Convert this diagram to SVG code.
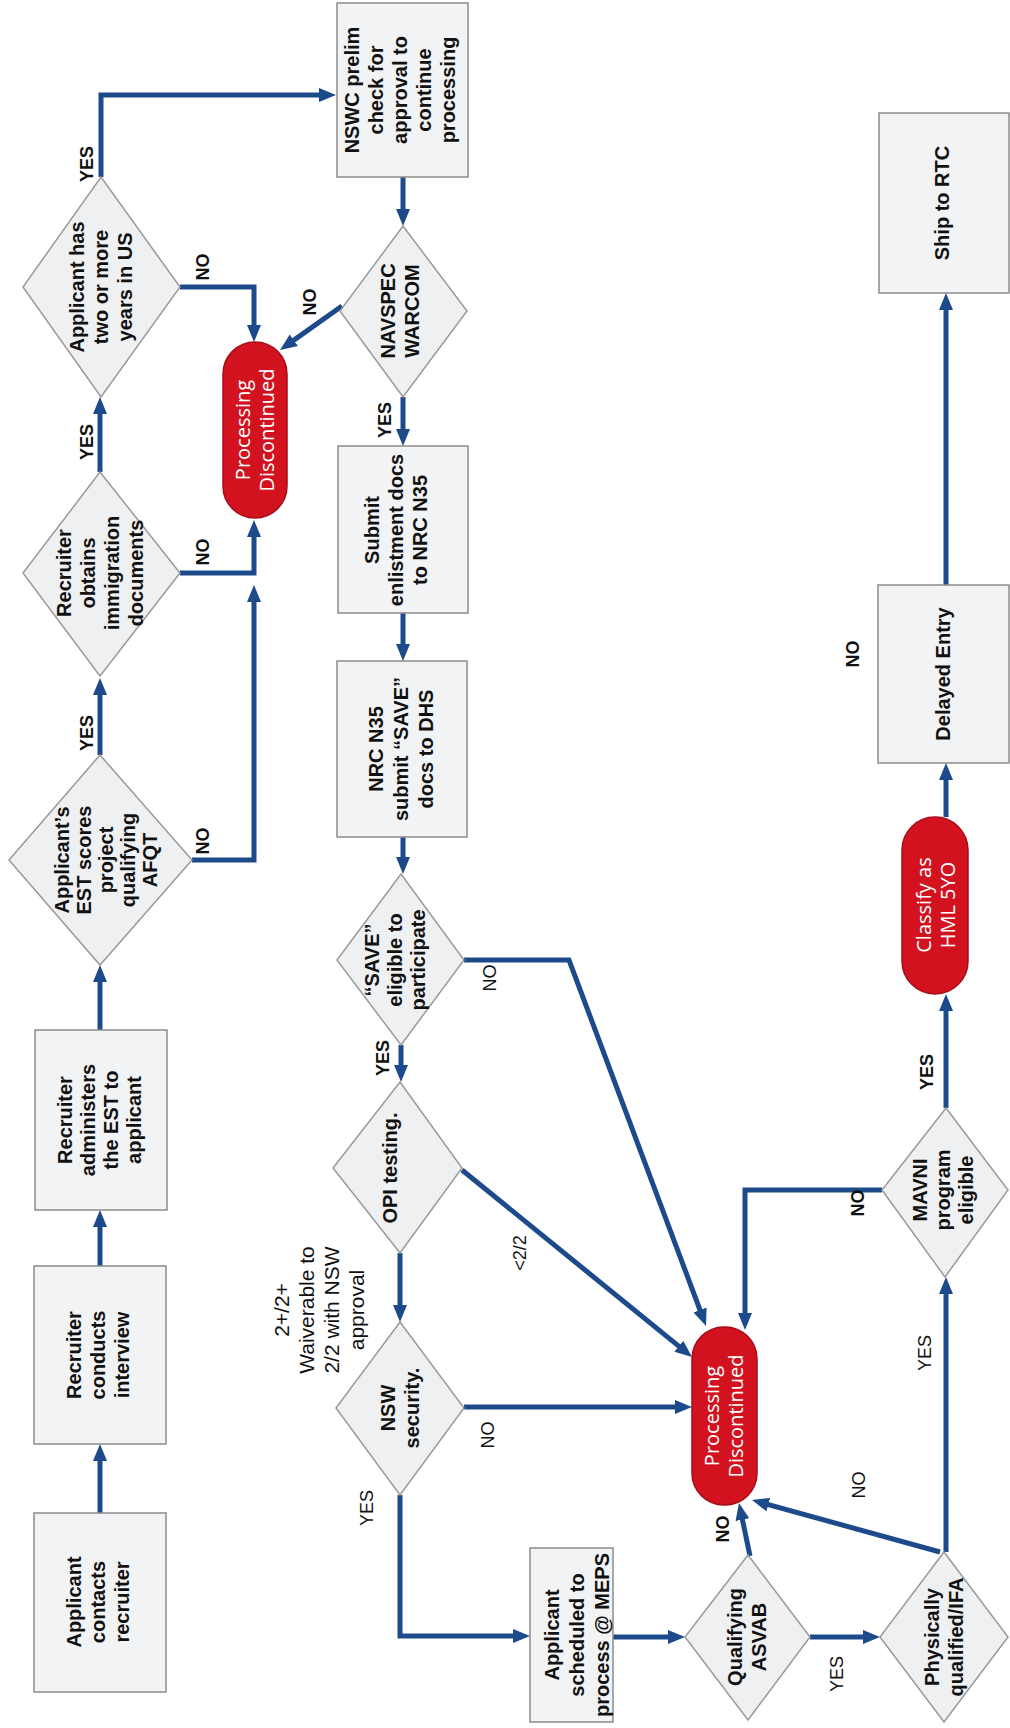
<svg xmlns="http://www.w3.org/2000/svg" width="1010" height="1728" viewBox="0 0 1010 1728">
<style>
.box{fill:#f1f3f5;stroke:#8c8c8c;stroke-width:1.5}
.dia{fill:#eef0f2;stroke:#9a9a9a;stroke-width:1.5}
.pill{fill:#d2131f;stroke:#a80d17;stroke-width:1.5}
.nt{font-family:"Liberation Sans",Arial,sans-serif;font-weight:bold;font-size:20px;fill:#111;text-anchor:middle;dominant-baseline:central}
.pt{font-family:"Open Sans","Noto Sans",sans-serif;font-size:20px;fill:#fff;text-anchor:middle;dominant-baseline:central}
.lb{font-family:"Liberation Sans",Arial,sans-serif;font-size:18px;fill:#111;text-anchor:middle;dominant-baseline:central}
.lbb{font-weight:bold}
.cn{fill:none;stroke:#1d4a8a;stroke-width:5;marker-end:url(#ah)}
</style>
<defs>
<marker id="ah" markerUnits="userSpaceOnUse" markerWidth="18" markerHeight="16" refX="9" refY="8" orient="auto"><path d="M0,1 L17,8 L0,15 z" fill="#1d4a8a"/></marker>
</defs>
<rect width="1010" height="1728" fill="#fff"/>

<g id="connectors">
<path class="cn" d="M100,1513 V1452"/>
<path class="cn" d="M100,1266 V1218"/>
<path class="cn" d="M100,1030 V973"/>
<path class="cn" d="M100,755 V686"/>
<path class="cn" d="M100,472 V405"/>
<path class="cn" d="M101,177 V95 H328"/>
<path class="cn" d="M180,287 H254 V334"/>
<path class="cn" d="M180,573 H254 V528"/>
<path class="cn" d="M192,860 H254 V593"/>
<path class="cn" d="M403,177 V218"/>
<path class="cn" d="M342,306 L286.5,345.4"/>
<path class="cn" d="M403,397 V438"/>
<path class="cn" d="M403,613 V653"/>
<path class="cn" d="M403,837 V866"/>
<path class="cn" d="M401,1045 V1074"/>
<path class="cn" d="M464,960 H569 L703.2,1318.5"/>
<path class="cn" d="M462,1170 L685.8,1351.9"/>
<path class="cn" d="M400,1253 V1314"/>
<path class="cn" d="M464,1407 H684"/>
<path class="cn" d="M400,1495 V1636 H522"/>
<path class="cn" d="M613,1637 H677"/>
<path class="cn" d="M750,1556 L740.6,1510.8"/>
<path class="cn" d="M810,1637 H872"/>
<path class="cn" d="M940,1552 L759.7,1502.2"/>
<path class="cn" d="M946,1552 V1285"/>
<path class="cn" d="M882,1190 H745 V1322"/>
<path class="cn" d="M946,1108 V1002"/>
<path class="cn" d="M946,817 V771"/>
<path class="cn" d="M946,585 V301"/>
</g>

<g id="labels">
<text class="lb lbb" transform="translate(87,164) rotate(-90)">YES</text>
<text class="lb lbb" transform="translate(87,442) rotate(-90)">YES</text>
<text class="lb lbb" transform="translate(87,733) rotate(-90)">YES</text>
<text class="lb lbb" transform="translate(203,267) rotate(-90)">NO</text>
<text class="lb lbb" transform="translate(203,552) rotate(-90)">NO</text>
<text class="lb lbb" transform="translate(203,841) rotate(-90)">NO</text>
<text class="lb lbb" transform="translate(310,302) rotate(-90)">NO</text>
<text class="lb lbb" transform="translate(385,420) rotate(-90)">YES</text>
<text class="lb lbb" transform="translate(383,1058) rotate(-90)">YES</text>
<text class="lb" transform="translate(490,978) rotate(-90)">NO</text>
<text class="lb" transform="translate(520,1253) rotate(-90)">&lt;2/2</text>
<text class="lb" transform="translate(488,1435) rotate(-90)">NO</text>
<text class="lb" transform="translate(367,1508) rotate(-90)">YES</text>
<text class="lb lbb" transform="translate(723,1529) rotate(-90)">NO</text>
<text class="lb" transform="translate(837,1674) rotate(-90)">YES</text>
<text class="lb" transform="translate(859,1485) rotate(-90)">NO</text>
<text class="lb" transform="translate(925,1353) rotate(-90)">YES</text>
<text class="lb lbb" transform="translate(858,1203) rotate(-90)">NO</text>
<text class="lb lbb" transform="translate(927,1072) rotate(-90)">YES</text>
<text class="lb lbb" transform="translate(853,654) rotate(-90)">NO</text>
<text class="lb" style="font-size:21px" transform="translate(318,1310) rotate(-90)"><tspan x="0" y="-37.5">2+/2+</tspan><tspan x="0" y="-12.5">Waiverable to</tspan><tspan x="0" y="12.5">2/2 with NSW</tspan><tspan x="0" y="37.5">approval</tspan></text>
</g>

<g id="n1"><rect class="box" x="34" y="1513" width="132" height="179"/>
<text class="nt" transform="translate(98,1602) rotate(-90)"><tspan x="0" y="-24">Applicant</tspan><tspan x="0" y="0">contacts</tspan><tspan x="0" y="24">recruiter</tspan></text></g>

<g id="n2"><rect class="box" x="34" y="1266" width="132" height="178"/>
<text class="nt" transform="translate(98,1355) rotate(-90)"><tspan x="0" y="-24">Recruiter</tspan><tspan x="0" y="0">conducts</tspan><tspan x="0" y="24">interview</tspan></text></g>

<g id="n3"><rect class="box" x="35" y="1030" width="132" height="180"/>
<text class="nt" transform="translate(99,1120) rotate(-90)"><tspan x="0" y="-34.5">Recruiter</tspan><tspan x="0" y="-11.5">administers</tspan><tspan x="0" y="11.5">the EST to</tspan><tspan x="0" y="34.5">applicant</tspan></text></g>

<g id="n4"><polygon class="dia" points="100,755 192,860 100,965 9,860"/>
<text class="nt" transform="translate(106,860) rotate(-90)"><tspan x="0" y="-44">Applicant’s</tspan><tspan x="0" y="-22">EST scores</tspan><tspan x="0" y="0">project</tspan><tspan x="0" y="22">qualifying</tspan><tspan x="0" y="44">AFQT</tspan></text></g>

<g id="n5"><polygon class="dia" points="100,472 180,573 100,676 23,573"/>
<text class="nt" transform="translate(100,573) rotate(-90)"><tspan x="0" y="-36">Recruiter</tspan><tspan x="0" y="-12">obtains</tspan><tspan x="0" y="12">immigration</tspan><tspan x="0" y="36">documents</tspan></text></g>

<g id="n6"><polygon class="dia" points="101,177 180,287 101,397 23,287"/>
<text class="nt" transform="translate(101,287) rotate(-90)"><tspan x="0" y="-24">Applicant has</tspan><tspan x="0" y="0">two or more</tspan><tspan x="0" y="24">years in US</tspan></text></g>

<g id="n7"><rect class="pill" x="223" y="342" width="64" height="176" rx="32" ry="32"/>
<text class="pt" transform="translate(254,430) rotate(-90)"><tspan x="0" y="-12">Processing</tspan><tspan x="0" y="12">Discontinued</tspan></text></g>

<g id="n8"><rect class="box" x="337" y="3" width="131" height="174"/>
<text class="nt" transform="translate(400,90) rotate(-90)"><tspan x="0" y="-48">NSWC prelim</tspan><tspan x="0" y="-24">check for</tspan><tspan x="0" y="0">approval to</tspan><tspan x="0" y="24">continue</tspan><tspan x="0" y="48">processing</tspan></text></g>

<g id="n9"><polygon class="dia" points="403,226 467,311 403,397 340,311"/>
<text class="nt" transform="translate(400,311) rotate(-90)"><tspan x="0" y="-12">NAVSPEC</tspan><tspan x="0" y="12">WARCOM</tspan></text></g>

<g id="n10"><rect class="box" x="338" y="446" width="130" height="167"/>
<text class="nt" transform="translate(396,530) rotate(-90)"><tspan x="0" y="-24">Submit</tspan><tspan x="0" y="0">enlistment docs</tspan><tspan x="0" y="24">to NRC N35</tspan></text></g>

<g id="n11"><rect class="box" x="337" y="661" width="130" height="176"/>
<text class="nt" transform="translate(401,749) rotate(-90)"><tspan x="0" y="-25">NRC N35</tspan><tspan x="0" y="0">submit “SAVE”</tspan><tspan x="0" y="25">docs to DHS</tspan></text></g>

<g id="n12"><polygon class="dia" points="401,874 464,960 401,1045 337,960"/>
<text class="nt" transform="translate(395,960) rotate(-90)"><tspan x="0" y="-23">“SAVE”</tspan><tspan x="0" y="0">eligible to</tspan><tspan x="0" y="23">participate</tspan></text></g>

<g id="n13"><polygon class="dia" points="400,1082 462,1168 400,1253 333,1168"/>
<text class="nt" transform="translate(390,1168) rotate(-90)">OPI testing.</text></g>

<g id="n14"><polygon class="dia" points="400,1322 464,1408 400,1495 336,1408"/>
<text class="nt" transform="translate(400,1408) rotate(-90)"><tspan x="0" y="-12">NSW</tspan><tspan x="0" y="12">security.</tspan></text></g>

<g id="n15"><rect class="pill" x="692" y="1327" width="65" height="178" rx="32" ry="32"/>
<text class="pt" transform="translate(723,1416) rotate(-90)"><tspan x="0" y="-12">Processing</tspan><tspan x="0" y="12">Discontinued</tspan></text></g>

<g id="n16"><rect class="box" x="530" y="1548" width="83" height="174"/>
<text class="nt" transform="translate(577,1635) rotate(-90)"><tspan x="0" y="-25">Applicant</tspan><tspan x="0" y="0">scheduled to</tspan><tspan x="0" y="25">process @ MEPS</tspan></text></g>

<g id="n17"><polygon class="dia" points="748,1555 810,1637 748,1720 685,1637"/>
<text class="nt" transform="translate(747,1637) rotate(-90)"><tspan x="0" y="-12">Qualifying</tspan><tspan x="0" y="12">ASVAB</tspan></text></g>

<g id="n18"><polygon class="dia" points="944,1552 1008,1637 944,1722 880,1637"/>
<text class="nt" transform="translate(944,1637) rotate(-90)"><tspan x="0" y="-12">Physically</tspan><tspan x="0" y="12">qualified/IFA</tspan></text></g>

<g id="n19"><polygon class="dia" points="946,1108 1008,1190 945,1277 882,1190"/>
<text class="nt" transform="translate(943,1190) rotate(-90)"><tspan x="0" y="-23">MAVNI</tspan><tspan x="0" y="0">program</tspan><tspan x="0" y="23">eligible</tspan></text></g>

<g id="n20"><rect class="pill" x="902" y="817" width="66" height="177" rx="33" ry="33"/>
<text class="pt" transform="translate(935,905) rotate(-90)"><tspan x="0" y="-12">Classify as</tspan><tspan x="0" y="12">HML 5YO</tspan></text></g>

<g id="n21"><rect class="box" x="878" y="585" width="131" height="178"/>
<text class="nt" transform="translate(943,674) rotate(-90)">Delayed Entry</text></g>

<g id="n22"><rect class="box" x="879" y="113" width="130" height="180"/>
<text class="nt" transform="translate(942,203) rotate(-90)">Ship to RTC</text></g>
</svg>
